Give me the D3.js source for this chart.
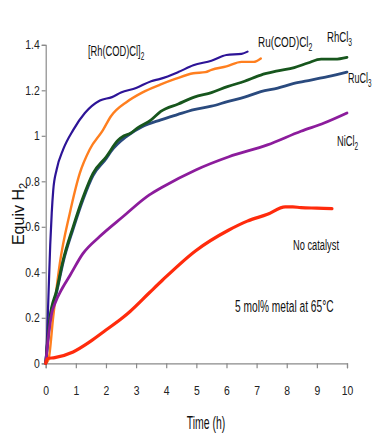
<!DOCTYPE html>
<html><head><meta charset="utf-8">
<script src="https://cdn.jsdelivr.net/npm/d3@7"></script>
<style>
html,body{margin:0;padding:0;background:#fff;}
svg{display:block;font-family:"Liberation Sans",Arial,sans-serif;}
</style></head><body>
<svg id="c" width="372" height="435"></svg>
<script>
// ---- data ----
const xTicks = [0,1,2,3,4,5,6,7,8,9,10];
const yTicks = [0,0.2,0.4,0.6,0.8,1,1.2,1.4];
const yTickLabels = ["0","0.2","0.4","0.6","0.8","1","1.2","1.4"];

const rhcodT = [0,0.04,0.09,0.15,0.2,0.25,0.36,0.58,0.91,1.3,1.8,2.2,2.5,3,3.5,3.8,4.4,4.9,5.5,6.0,6.5,6.7];
const rhcodV = [0,0.1,0.29,0.52,0.66,0.76,0.85,0.94,1.025,1.1,1.155,1.17,1.19,1.21,1.24,1.25,1.28,1.31,1.33,1.355,1.36,1.37];

const rucodT = [0,0.09,0.25,0.47,0.8,1.13,1.46,1.9,2.16,2.7,3.2,3.8,4.3,4.9,5.3,5.5,6.0,6.5,6.9,7.14];
const rucodV = [0,0.015,0.205,0.44,0.66,0.835,0.94,1.025,1.085,1.15,1.19,1.225,1.25,1.275,1.28,1.29,1.305,1.325,1.325,1.34];

const rhcl3T = [0,0.14,0.36,0.58,0.91,1.24,1.57,2.01,2.4,2.6,2.8,3.05,3.5,3.82,4.4,4.93,5.5,6.03,6.6,7.14,7.7,8.25,8.7,9.14,9.6,10];
const rhcl3V = [0,0.2,0.32,0.454,0.6,0.73,0.835,0.908,0.98,1.0,1.01,1.035,1.07,1.107,1.14,1.17,1.19,1.216,1.24,1.267,1.285,1.30,1.32,1.337,1.337,1.345];

const rucl3T = [0,0.14,0.36,0.58,0.91,1.24,1.57,2.01,2.16,2.71,3.2,3.82,4.37,4.92,5.5,6.03,6.6,7.14,7.7,8.24,8.8,9.36,10];
const rucl3V = [0,0.19,0.31,0.445,0.59,0.72,0.825,0.9,0.93,1.0,1.04,1.07,1.093,1.115,1.13,1.15,1.17,1.194,1.21,1.23,1.245,1.26,1.28];

const nicl2T = [0,0.1,0.2,0.31,0.55,0.8,1.24,1.79,2.56,3.44,3.88,4.98,6.08,7.36,8.47,9.24,10];
const nicl2V = [0,0.13,0.22,0.264,0.33,0.385,0.483,0.557,0.644,0.74,0.775,0.85,0.908,0.96,1.02,1.056,1.10];

const noneT = [0,0.05,0.3,0.91,1.46,2.0,2.55,2.8,3.44,3.88,4.98,6.08,6.69,7.36,7.95,8.2,8.47,9.0,9.5];
const noneV = [0,0.02,0.025,0.05,0.094,0.146,0.2,0.228,0.31,0.366,0.495,0.586,0.625,0.655,0.688,0.688,0.684,0.682,0.68];

const seriesNames = ["[Rh(COD)Cl]", "Ru(COD)Cl", "RhCl", "RuCl", "NiCl", "No catalyst"];
const seriesSubs  = ["2","2","3","3","2",""];
const seriesColors = ["#2d1497","#ff7f1f","#17561d","#2a4a7e","#8c1c9c","#ff2b0c"];

// ---- chart ----
const svg = d3.select("#c");
const x = d3.scaleLinear().domain([0,10]).range([45.7,347]);
const y = d3.scaleLinear().domain([0,1.4]).range([363.3,44.8]);

const axisColor = "#8a8a8a";
const TSX = 0.8;   // horizontal squeeze of tick text
const gx = svg.append("g").attr("transform",`translate(0,${y(0)})`)
  .call(d3.axisBottom(x).tickValues(xTicks).tickSize(5).tickPadding(17).tickFormat(d3.format("d")));
const gy = svg.append("g").attr("transform",`translate(${x(0)},0)`)
  .call(d3.axisLeft(y).tickValues(yTicks).tickSize(4).tickPadding(3).tickFormat((d,i)=>yTickLabels[i]));
[gx,gy].forEach(g=>{
  g.select(".domain").attr("stroke",axisColor).attr("stroke-width",1.2);
  g.selectAll(".tick line").attr("stroke",axisColor).attr("stroke-width",1.2);
  g.selectAll(".tick text").attr("fill","#222").attr("font-size",13)
    .attr("font-family",'"Liberation Sans",Arial,sans-serif');
});
gx.selectAll(".tick text").attr("transform",`scale(${TSX},1)`);
gy.selectAll(".tick text").attr("x",-6/TSX).attr("transform",`scale(${TSX},1)`);

const line = d3.line().x(d=>x(d[0])).y(d=>y(d[1])).curve(d3.curveMonotoneX);
const series = [
  {t:rhcodT,v:rhcodV,c:0,w:2.2},{t:rucodT,v:rucodV,c:1,w:2.4},
  {t:rucl3T,v:rucl3V,c:3,w:2.8},{t:rhcl3T,v:rhcl3V,c:2,w:2.8},
  {t:nicl2T,v:nicl2V,c:4,w:2.8},{t:noneT,v:noneV,c:5,w:3.2}
];
series.forEach(s=>{
  const pts = s.t.map((t,j)=>[t,s.v[j]]);
  svg.append("path").datum(pts).attr("d",line).attr("fill","none")
    .attr("stroke",seriesColors[s.c]).attr("stroke-width",s.w)
    .attr("stroke-linejoin","round").attr("stroke-linecap","round");
});

// squeezed text helper
function label(px,py,main,sub,size,sx,anchor){
  const g = svg.append("g").attr("transform",`translate(${px},${py}) scale(${sx},1)`);
  const t = g.append("text").attr("font-size",size).attr("fill","#111").attr("text-anchor",anchor||"start");
  t.append("tspan").text(main);
  if(sub){ t.append("tspan").attr("dy",4).attr("font-size",size*0.7).text(sub); }
  return t;
}
label(88,56,seriesNames[0],seriesSubs[0],15,0.62);
label(258,47,seriesNames[1],seriesSubs[1],15,0.66);
label(327,41.5,seriesNames[2],seriesSubs[2],15,0.64);
label(348,83,seriesNames[3],seriesSubs[3],15,0.6);
label(337,146,seriesNames[4],seriesSubs[4],15,0.62);
label(293,250,seriesNames[5],seriesSubs[5],15,0.62);
label(235,311.5,"5 mol% metal at 65°C","",17,0.6);

// axis titles
label(206,429,"Time (h)","",18,0.58,"middle");
const yg = svg.append("g").attr("transform","translate(24,214) rotate(-90)");
const yt = yg.append("text").attr("text-anchor","middle").attr("font-size",16).attr("fill","#111");
yt.append("tspan").text("Equiv H");
yt.append("tspan").attr("dy",3).attr("font-size",11).text("2");
</script>
</body></html>
